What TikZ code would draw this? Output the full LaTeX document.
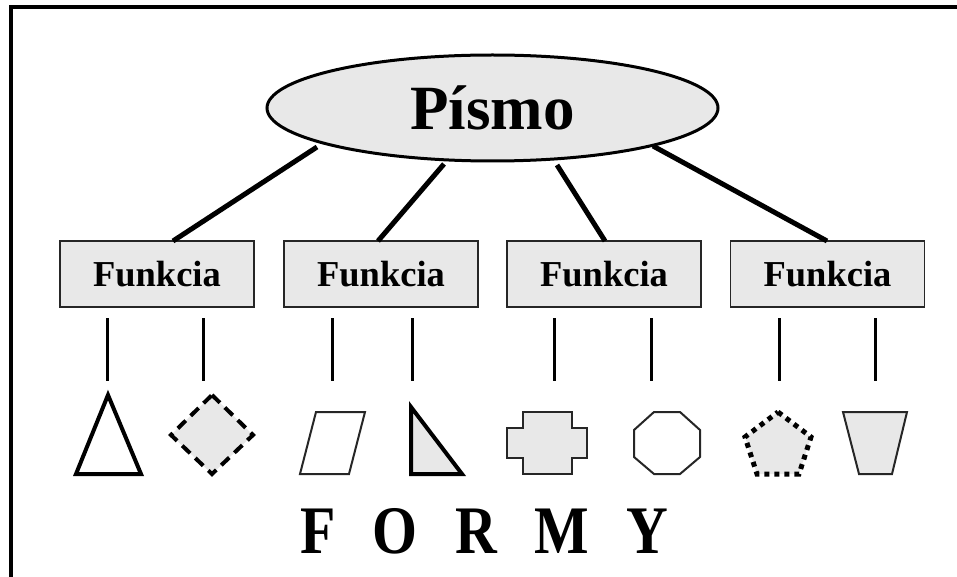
\documentclass[tikz,border=0pt]{standalone}
\usepackage{fontspec}
\usepackage{graphicx}
\setmainfont{Liberation Serif}
\usetikzlibrary{shapes.geometric,calc}
\definecolor{boxgray}{RGB}{232,232,232}
\begin{document}
\begin{tikzpicture}[x=1pt,y=-1pt,
  funk/.style={draw=black!85, line width=1.5pt, fill=boxgray, minimum width=194pt,
    minimum height=66pt, inner sep=0pt, outer sep=0pt,
    font=\fontsize{36.5}{40}\selectfont\bfseries},
  conn/.style={line width=5pt},
  stub/.style={line width=3pt},
  thickshape/.style={line width=4pt, line join=miter},
  thinshape/.style={line width=2pt, draw=black!85},
]
\useasboundingbox (0,0) rectangle (957,577);
% frame
\draw[line width=4pt] (11,577) -- (11,7) -- (957,7);
% ellipse
\node[ellipse, draw, line width=3pt, fill=boxgray, minimum width=451pt, minimum height=106pt,
  inner sep=0pt, outer sep=0pt, font=\fontsize{63}{70}\selectfont\bfseries] (pismo) at (492.5,108) {Písmo};
% boxes
\node[funk] (f1) at (157,274) {Funkcia};
\node[funk] (f2) at (381,274) {Funkcia};
\node[funk] (f3) at (604,274) {Funkcia};
\node[funk] (f4) at (827.5,274) {Funkcia};
% connector ends
\coordinate (s1) at (317,147);
\coordinate (s2) at (444,164);
\coordinate (s3) at (557,165);
\coordinate (s4) at (653,146);
\coordinate (e1) at (173,241);
\coordinate (e2) at (378,241);
\coordinate (e3) at (605,241);
\coordinate (e4) at (827,241);
\draw[conn] (s1) -- (e1);
\draw[conn] (s2) -- (e2);
\draw[conn] (s3) -- (e3);
\draw[conn] (s4) -- (e4);
% stubs
\foreach \x in {107,203,332,412,554,651,779,875}
  \draw[stub] (\x,318) -- (\x,381);
% shapes
\draw[thickshape, fill=white] (108,395) -- (141,474) -- (76,474) -- cycle;
\draw[thickshape, fill=boxgray, dash pattern=on 11pt off 7pt] (212,395) -- (253,435) -- (212,474) -- (171,435) -- cycle;
\draw[thinshape, fill=white] (316,412) -- (365,412) -- (349,474) -- (300,474) -- cycle;
\draw[thickshape, fill=boxgray] (411,407) -- (462,474) -- (411,474) -- cycle;
\draw[thinshape, fill=boxgray] (523,412) -- (572,412) -- (572,428) -- (587,428) -- (587,458) -- (572,458)
  -- (572,474) -- (523,474) -- (523,458) -- (507,458) -- (507,428) -- (523,428) -- cycle;
\draw[thinshape, fill=white] (654,412) -- (680,412) -- (700,430) -- (700,457) -- (680,474) -- (654,474)
  -- (634,457) -- (634,430) -- cycle;
\draw[line width=5pt, fill=boxgray, dash pattern=on 5pt off 5pt] (778,412) -- (811,437) -- (799,474) -- (757,474) -- (745,437) -- cycle;
\draw[thinshape, fill=boxgray] (843,412) -- (907,412) -- (892,474) -- (859,474) -- cycle;
% title
\node[anchor=base, inner sep=0pt] (formy) at (484,553)
  {\scalebox{0.85}[1]{\fontsize{68}{72}\selectfont\bfseries\spaceskip=44pt F O R M Y}};
\end{tikzpicture}
\end{document}
